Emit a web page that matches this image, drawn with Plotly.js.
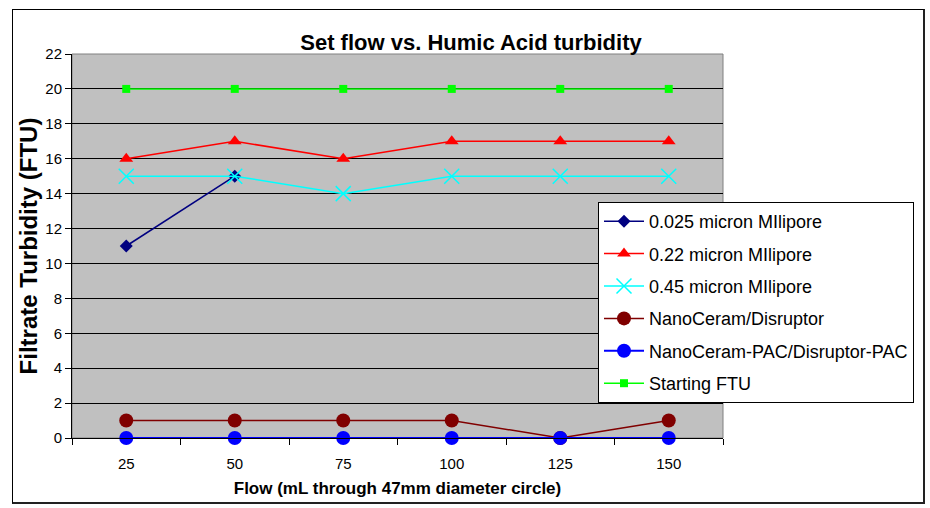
<!DOCTYPE html>
<html><head><meta charset="utf-8">
<script src="https://cdn.plot.ly/plotly-3.0.1.min.js"></script>
<style>
html,body{margin:0;padding:0;background:#fff;}
#wrap{position:relative;width:930px;height:508px;}
#chart{width:930px;height:508px;}
#frame{position:absolute;left:12px;top:9px;width:913px;height:495px;border:1px solid #000;border-right:2px solid #222;border-bottom:2px solid #222;box-sizing:border-box;pointer-events:none;}
</style></head>
<body>
<div id="wrap"><div id="chart"></div><div id="frame"></div></div>
<script>
const flows = ["25","50","75","100","125","150"];
const s025 = [11, 15];
const s022 = [16, 17, 16, 17, 17, 17];
const s045 = [15, 15, 14, 15, 15, 15];
const nano = [1, 1, 1, 1, 0, 1];
const nanoPac = [0, 0, 0, 0, 0, 0];
const starting = [20, 20, 20, 20, 20, 20];
const names = ["0.025 micron MIlipore","0.22 micron MIlipore","0.45 micron MIlipore","NanoCeram/Disruptor","NanoCeram-PAC/Disruptor-PAC","Starting FTU"];

function tr(y, name, color, sym, size, extra){
  const m = {symbol: sym, size: size, color: color};
  if (extra) Object.assign(m, extra);
  return {x: flows.slice(0, y.length), y: y, name: name, type: 'scatter', mode: 'lines+markers',
    line: {color: color, width: 1.5}, marker: m, legendgroup: name, cliponaxis: false};
}
const data = [
  tr(s025, names[0], '#000080', 'diamond', 10),
  tr(s022, names[1], '#FF0000', 'triangle-up', 12),
  tr(s045, names[2], '#00FFFF', 'x-thin-open', 15, {line: {color: '#00FFFF', width: 1.5}}),
  tr(nano, names[3], '#800000', 'circle', 14),
  tr(nanoPac, names[4], '#0000FF', 'circle', 14),
  tr(starting, names[5], '#00FF00', 'square', 8)
];
data[4].line.width = 2;

const layout = {
  width: 930, height: 508,
  margin: {l: 72, r: 207, t: 54, b: 70},
  paper_bgcolor: '#ffffff', plot_bgcolor: '#C0C0C0',
  font: {family: 'Liberation Sans, Arial, sans-serif', color: '#000', size: 15},
  title: {text: '<b>Set flow vs. Humic Acid turbidity</b>', x: 471/930, xref: 'container', xanchor: 'center',
    y: 1 - 42/508, yref: 'container', yanchor: 'middle', font: {size: 22, color: '#000'}},
  xaxis: {type: 'category', range: [-0.5, 5.5], showgrid: false, ticks: 'outside', tickson: 'boundaries', ticklen: 6,
    tickcolor: '#000', showline: true, linecolor: '#000', linewidth: 1, mirror: false,
    tickfont: {size: 15}, zeroline: false, ticklabelstandoff: 12,
    title: {text: '<b>Flow (mL through 47mm diameter circle)</b>', font: {size: 17}, standoff: 11}},
  yaxis: {range: [0, 22], dtick: 2, tick0: 0, showgrid: true, gridcolor: '#000', gridwidth: 1,
    ticks: 'outside', ticklen: 6, tickcolor: '#000', showline: true, linecolor: '#000', linewidth: 1,
    zeroline: false, tickfont: {size: 15},
    title: {text: '<b>Filtrate Turbidity (FTU)</b>', font: {size: 24}, standoff: 0}},
  shapes: [{type: 'rect', xref: 'paper', yref: 'paper', x0: 0, x1: 1, y0: 0, y1: 1,
    line: {color: '#808080', width: 1}, fillcolor: 'rgba(0,0,0,0)', layer: 'below'}],
  legend: {x: (598-72)/651, xanchor: 'left', y: (438-202)/384, yanchor: 'top',
    bgcolor: '#ffffff', bordercolor: '#000', borderwidth: 1, font: {size: 18},
    tracegroupgap: 6, itemwidth: 40},
  showlegend: true
};
Plotly.newPlot('chart', data, layout, {displayModeBar: false, staticPlot: true});
</script>
</body></html>
